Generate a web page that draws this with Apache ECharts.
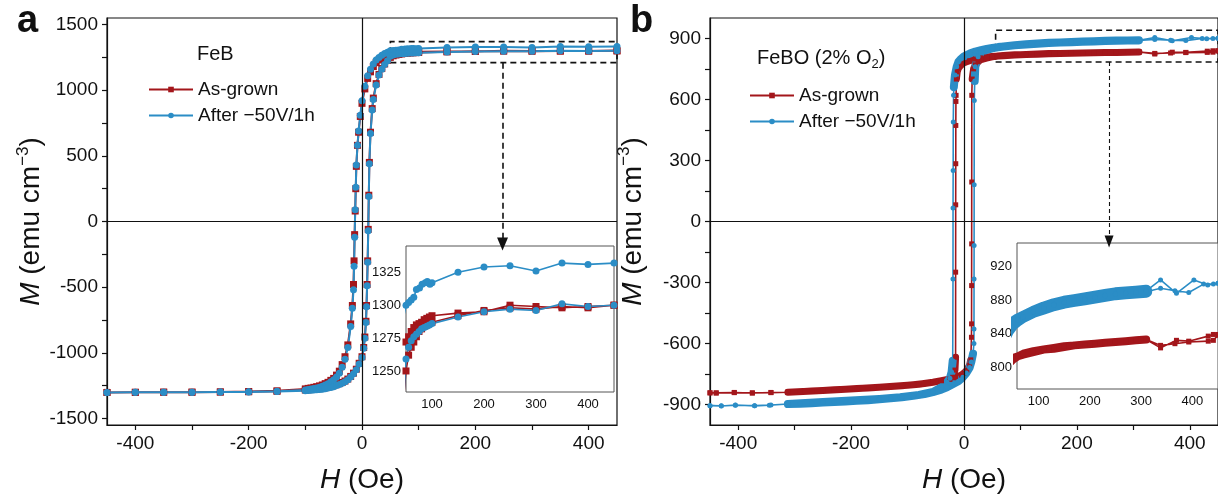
<!DOCTYPE html>
<html>
<head>
<meta charset="utf-8">
<title>M-H loops FeB / FeBO</title>
<script src="https://cdn.jsdelivr.net/npm/echarts@6/dist/echarts.min.js"></script>
<style>
  html, body { margin: 0; padding: 0; background: #fff; }
  #main { width: 1218px; height: 499px; }
</style>
</head>
<body>
<div id="main"></div>
<script>
// ---- panel a : FeB, field H (Oe) and moment M (emu cm^-3) ----
var febGrownDescH = [450, 400, 350, 300, 250, 200, 150, 100, 95, 90, 85, 80, 75, 70, 65, 60, 55, 50, 45, 40, 35, 30, 25, 20, 15, 10, 5, 0, -3, -6, -8, -10, -11, -12, -13, -14, -15, -17, -20, -25, -30, -35, -40, -45, -50, -55, -60, -65, -70, -75, -80, -85, -90, -95, -100, -150, -200, -250, -300, -350, -400, -450];
var febGrownDescM = [1300, 1299, 1298, 1299, 1300, 1295, 1294, 1292, 1291, 1290, 1289, 1287, 1286, 1285, 1283, 1280, 1276, 1272, 1265, 1255, 1245, 1230, 1210, 1180, 1140, 1090, 1010, 900, 800, 680, 580, 420, 250, 80, -100, -300, -480, -640, -780, -940, -1030, -1090, -1140, -1170, -1195, -1210, -1225, -1235, -1245, -1252, -1258, -1263, -1268, -1271, -1275, -1290, -1295, -1298, -1300, -1300, -1301, -1302];
var febGrownAscH = [-450, -400, -350, -300, -250, -200, -150, -100, -95, -90, -85, -80, -75, -70, -65, -60, -55, -50, -45, -40, -35, -30, -25, -20, -15, -10, -5, 0, 3, 5, 7, 8, 9, 10, 11, 12, 13, 15, 18, 20, 25, 30, 35, 40, 45, 50, 55, 60, 65, 70, 75, 80, 85, 90, 95, 100, 150, 200, 250, 300, 350, 400, 450];
var febGrownAscM = [-1302, -1301, -1300, -1300, -1299, -1297, -1293, -1284, -1282, -1280, -1278, -1276, -1273, -1270, -1266, -1262, -1257, -1250, -1243, -1235, -1226, -1215, -1200, -1180, -1155, -1125, -1080, -1030, -960, -880, -760, -640, -480, -300, -60, 200, 450, 680, 860, 940, 1050, 1120, 1165, 1200, 1228, 1250, 1262, 1268, 1272, 1276, 1280, 1282, 1284, 1285, 1286, 1287, 1292, 1296, 1298, 1297, 1299, 1298, 1300];

var febAfterDescH = [450, 400, 350, 300, 250, 200, 150, 100, 96, 91, 87, 81, 76, 70, 65, 60, 55, 50, 45, 40, 35, 30, 25, 20, 15, 10, 5, 0, -3, -6, -8, -10, -11, -12, -13, -14, -15, -17, -20, -25, -30, -35, -40, -45, -50, -55, -60, -65, -70, -75, -80, -85, -90, -95, -100, -150, -200, -250, -300, -350, -400, -450];
var febAfterDescM = [1332, 1331, 1332, 1326, 1330, 1329, 1325, 1317, 1316, 1318, 1317, 1316, 1313, 1312, 1306, 1304, 1302, 1300, 1290, 1280, 1266, 1250, 1230, 1200, 1160, 1110, 1030, 920, 810, 690, 580, 430, 260, 90, -120, -340, -520, -660, -800, -960, -1050, -1110, -1155, -1185, -1205, -1220, -1235, -1245, -1255, -1262, -1268, -1272, -1276, -1280, -1283, -1292, -1296, -1298, -1300, -1301, -1301, -1302];
var febAfterAscH = [-450, -400, -350, -300, -250, -200, -150, -100, -95, -90, -85, -80, -75, -70, -65, -60, -55, -50, -45, -40, -35, -30, -25, -20, -15, -10, -5, 0, 3, 5, 7, 8, 9, 10, 11, 12, 13, 15, 18, 20, 25, 30, 35, 40, 45, 50, 55, 60, 65, 70, 75, 80, 85, 90, 95, 100, 150, 200, 250, 300, 350, 400, 450];
var febAfterAscM = [-1302, -1301, -1301, -1300, -1299, -1298, -1295, -1290, -1288, -1286, -1284, -1282, -1280, -1277, -1273, -1269, -1264, -1258, -1250, -1242, -1232, -1220, -1205, -1185, -1160, -1130, -1085, -1035, -965, -890, -770, -650, -490, -310, -70, 190, 440, 670, 850, 930, 1040, 1115, 1160, 1195, 1225, 1259, 1268, 1273, 1276, 1278, 1280, 1282, 1283, 1284, 1285, 1286, 1291, 1295, 1297, 1296, 1301, 1299, 1300];

// ---- panel b : FeBO (2% O2) ----
var feboGrownDescH = [450, 441, 431, 393, 369, 338, 310, 290, 270, 250, 230, 210, 190, 170, 150, 130, 110, 90, 70, 60, 50, 40, 30, 20, 10, 0, -5, -10, -12, -13.5, -14, -14.3, -14.5, -14.6, -14.7, -14.8, -14.9, -16, -20, -25, -40, -55, -80, -100, -150, -202, -250, -312, -342, -375, -407, -439, -450];
var feboGrownDescM = [839, 839, 837, 831, 832, 823, 833, 832, 831, 830, 829, 828, 827, 826, 824, 822, 821, 818, 815, 813, 811, 808, 804, 798, 790, 780, 770, 752, 735, 700, 620, 590, 472, 284, 82, -249, -667, -730, -765, -774, -782, -790, -800, -805, -815, -823, -830, -839, -840, -843, -840, -842, -842];
var feboGrownAscH = [-450, -439, -407, -375, -342, -312, -290, -270, -250, -230, -210, -190, -170, -150, -130, -110, -90, -70, -55, -40, -25, -15, -5, 0, 5, 10, 12, 13.2, 13.4, 13.5, 13.6, 13.7, 13.8, 14.5, 17, 20, 25, 30, 40, 50, 60, 70, 90, 110, 130, 150, 170, 190, 210, 230, 250, 270, 290, 310, 338, 366, 393, 431, 441, 450];
var feboGrownAscM = [-842, -843, -841, -842, -841, -839, -836, -833, -830, -827, -824, -821, -818, -815, -811, -807, -802, -796, -790, -782, -775, -768, -755, -745, -730, -705, -680, -569, -503, -315, -110, 194, 620, 700, 750, 770, 785, 795, 803, 809, 813, 816, 819, 821, 823, 825, 826, 827, 828, 829, 830, 831, 832, 833, 826, 828, 830, 831, 832, 838];

var feboAfterDescH = [450, 430, 403, 369, 338, 310, 290, 270, 250, 230, 210, 190, 170, 150, 130, 110, 90, 70, 60, 50, 40, 30, 20, 10, 0, -5, -10, -13, -16, -18, -18.5, -19, -19.2, -19.4, -19.5, -20, -22, -25, -30, -40, -55, -80, -113, -150, -200, -250, -312, -342, -371, -405, -430, -450];
var feboAfterDescM = [900, 898, 904, 888, 904, 891, 890, 889, 888, 886, 884, 882, 880, 878, 875, 871, 866, 860, 857, 853, 848, 842, 835, 825, 812, 800, 784, 760, 720, 660, 620, 489, 251, 66, -282, -684, -740, -770, -790, -815, -838, -852, -864, -872, -880, -887, -897, -902, -905, -903, -906, -905];
var feboAfterAscH = [-450, -430, -405, -371, -345, -312, -290, -270, -250, -230, -210, -190, -170, -150, -130, -110, -90, -70, -55, -40, -30, -20, -10, -2, 4, 10, 13, 16, 17.6, 17.7, 17.8, 17.9, 18, 18.2, 19, 20, 25, 30, 40, 50, 60, 70, 90, 110, 130, 150, 170, 190, 210, 230, 250, 270, 290, 310, 338, 366, 393, 422, 441, 450];
var feboAfterAscM = [-905, -907, -902, -906, -903, -897, -895, -893, -890, -887, -884, -881, -878, -874, -869, -864, -857, -848, -838, -826, -815, -800, -785, -765, -745, -718, -690, -650, -600, -528, -282, -118, 181, 595, 690, 760, 810, 830, 843, 851, 856, 860, 866, 870, 874, 877, 879, 881, 883, 885, 887, 888, 889, 890, 894, 891, 889, 899, 899, 900];

// ---- ticks ----
var fieldTicks = [-400, -300, -200, -100, 0, 100, 200, 300, 400];
var fieldLabels = [-400, -200, 0, 200, 400];
var febTicks = [-1500, -1250, -1000, -750, -500, -250, 0, 250, 500, 750, 1000, 1250, 1500];
var febLabels = [-1500, -1000, -500, 0, 500, 1000, 1500];
var feboTicks = [-900, -750, -600, -450, -300, -150, 0, 150, 300, 450, 600, 750, 900];
var feboLabels = [-900, -600, -300, 0, 300, 600, 900];
var insetFieldTicks = [100, 150, 200, 250, 300, 350, 400];
var insetFieldLabels = [100, 200, 300, 400];
var insetFebLabels = [1250, 1275, 1300, 1325];
var insetFeboLabels = [800, 840, 880, 920];

var legendNames = ['As-grown', 'After \u221250V/1h'];

var FONT = 'Liberation Sans, Arial, Helvetica, sans-serif';
var RED = '#a3161b';
var BLUE = '#2b8dc6';
var INK = '#111';

function plain(v) { return String(v); }

function loop(dH, dM, aH, aM) {
  var pts = [];
  for (var i = 0; i < dH.length; i++) pts.push([dH[i], dM[i]]);
  for (var j = 0; j < aH.length; j++) pts.push([aH[j], aM[j]]);
  return pts;
}
// saturated part only, where the dense measurement points pile up into a thick band
function band(pts) {
  return pts.map(function (p) {
    return (Math.abs(p[0]) <= 315 && Math.abs(p[1]) >= 640) ? p : [p[0], '-'];
  });
}

var febGrown = loop(febGrownDescH, febGrownDescM, febGrownAscH, febGrownAscM);
var febAfter = loop(febAfterDescH, febAfterDescM, febAfterAscH, febAfterAscM);
var feboGrown = loop(feboGrownDescH, feboGrownDescM, feboGrownAscH, feboGrownAscM);
var feboAfter = loop(feboAfterDescH, feboAfterDescM, feboAfterAscH, feboAfterAscM);

function curve(name, data, color, symbol, size, axis, extra) {
  var s = {
    name: name, type: 'line', data: data,
    xAxisIndex: axis, yAxisIndex: axis,
    symbol: symbol, symbolSize: size,
    lineStyle: { color: color, width: 1.6 },
    itemStyle: { color: color },
    z: 3
  };
  for (var k in extra) s[k] = extra[k];
  return s;
}
function thick(data, color, width, axis, z) {
  return {
    name: 'band', type: 'line', data: data,
    xAxisIndex: axis, yAxisIndex: axis,
    symbol: 'none', connectNulls: false,
    lineStyle: { color: color, width: width, cap: 'round', join: 'round' },
    z: z
  };
}

var richName = {
  i: { fontSize: 28, fontStyle: 'italic', fontFamily: FONT, color: INK, lineHeight: 34 },
  t: { fontSize: 28, fontFamily: FONT, color: INK, lineHeight: 34 },
  sup: { fontSize: 17, fontFamily: FONT, color: INK, lineHeight: 17, verticalAlign: 'top' }
};

function mainX(grid) {
  return {
    type: 'value', gridIndex: grid, min: -450, max: 450,
    axisLine: { onZero: false, lineStyle: { color: INK, width: 1.2 } },
    axisTick: { customValues: fieldTicks, length: 5, lineStyle: { color: INK, width: 1.2 } },
    axisLabel: { customValues: fieldLabels, formatter: plain, fontSize: 19, color: INK, fontFamily: FONT, margin: 9 },
    splitLine: { show: false },
    name: '{i|H}{t| (Oe)}', nameLocation: 'middle', nameGap: 38,
    nameTextStyle: { rich: richName }
  };
}
function mainY(grid, min, max, ticks, labels, gap) {
  return {
    type: 'value', gridIndex: grid, min: min, max: max,
    axisLine: { onZero: false, lineStyle: { color: INK, width: 1.2 } },
    axisTick: { customValues: ticks, length: 5, lineStyle: { color: INK, width: 1.2 } },
    axisLabel: { customValues: labels, formatter: plain, fontSize: 19, color: INK, fontFamily: FONT, margin: 9 },
    splitLine: { show: false },
    name: '{i|M}{t| (emu cm}{sup|\u22123}{t|)}', nameLocation: 'middle', nameRotate: 90, nameGap: gap,
    nameTextStyle: { rich: richName }
  };
}
function insetX(grid, min, top) {
  return {
    type: 'value', gridIndex: grid, min: min, max: 450, position: top ? 'top' : 'bottom',
    axisLine: { show: false, onZero: false },
    axisTick: { inside: true, customValues: insetFieldTicks, length: 4, lineStyle: { color: '#444' } },
    axisLabel: { show: !top, customValues: insetFieldLabels, formatter: plain, fontSize: 13, color: INK, fontFamily: FONT, margin: 6 },
    splitLine: { show: false }
  };
}
function insetY(grid, min, max, labels) {
  return {
    type: 'value', gridIndex: grid, min: min, max: max,
    axisLine: { show: false, onZero: false },
    axisTick: { inside: true, customValues: labels, length: 4, lineStyle: { color: '#444' } },
    axisLabel: { customValues: labels, formatter: plain, fontSize: 13, color: INK, fontFamily: FONT, margin: 5 },
    splitLine: { show: false }
  };
}

var zeroLines = [{ xAxis: 0 }, { yAxis: 0 }];

var option = {
  animation: false,
  backgroundColor: '#fff',
  textStyle: { fontFamily: FONT },
  title: [
    { text: 'a', left: 12, top: -2, textStyle: { fontSize: 38, fontWeight: 'bold', color: INK, fontFamily: FONT } },
    { text: 'b', left: 625, top: -2, textStyle: { fontSize: 38, fontWeight: 'bold', color: INK, fontFamily: FONT } },
    { text: 'FeB', left: 192, top: 39, textStyle: { fontSize: 20, fontWeight: 'normal', color: INK, fontFamily: FONT } },
    {
      text: '{t|FeBO (2% O}{s|2}{t|)}', left: 752, top: 40,
      textStyle: {
        fontWeight: 'normal',
        rich: {
          t: { fontSize: 20, fontWeight: 'normal', color: INK, fontFamily: FONT, lineHeight: 26 },
          s: { fontSize: 13, fontWeight: 'normal', color: INK, fontFamily: FONT, lineHeight: 13, verticalAlign: 'bottom' }
        }
      }
    }
  ],
  legend: [
    {
      data: legendNames, orient: 'vertical', left: 143, top: 75, itemWidth: 44, itemHeight: 7, itemGap: 7,
      textStyle: { fontSize: 19, color: INK, fontFamily: FONT }, selectedMode: false
    },
    {
      data: legendNames, orient: 'vertical', left: 744, top: 81, itemWidth: 44, itemHeight: 7, itemGap: 7,
      textStyle: { fontSize: 19, color: INK, fontFamily: FONT }, selectedMode: false
    }
  ],
  grid: [
    { left: 107, top: 18, width: 510, height: 409, show: true, borderColor: INK, borderWidth: 1.2 },
    { left: 406, top: 246, width: 208, height: 146, show: true, backgroundColor: '#fff', borderColor: '#555', borderWidth: 1, z: 4 },
    { left: 710, top: 18, width: 510, height: 409, show: true, borderColor: INK, borderWidth: 1.2 },
    { left: 1017, top: 243, width: 202, height: 146, show: true, backgroundColor: '#fff', borderColor: '#555', borderWidth: 1, z: 4 }
  ],
  xAxis: [
    mainX(0),
    insetX(1, 50, false),
    mainX(2),
    insetX(3, 58, false),
    insetX(1, 50, true),
    insetX(3, 58, true)
  ],
  yAxis: [
    mainY(0, -1550, 1550, febTicks, febLabels, 58),
    insetY(1, 1234, 1345, insetFebLabels),
    mainY(2, -1000, 1000, feboTicks, feboLabels, 60),
    insetY(3, 774, 948, insetFeboLabels)
  ],
  series: [
    curve(legendNames[0], febGrown, RED, 'rect', 7, 0, {
      lineStyle: { color: RED, width: 2 },
      markLine: {
        silent: true, symbol: 'none', label: { show: false },
        lineStyle: { color: INK, width: 1.2, type: 'solid' },
        data: zeroLines.concat([[
          { coord: [248, 1210], symbol: 'none', lineStyle: { type: [6, 4], width: 1.6, color: INK } },
          { coord: [248, -172], symbol: 'triangle', symbolSize: [11, 13] }
        ]])
      },
      markArea: {
        silent: true,
        itemStyle: { color: 'rgba(0,0,0,0)', borderColor: INK, borderWidth: 1.6, borderType: [6, 4] },
        data: [[{ coord: [50, 1210] }, { coord: [450, 1370] }]]
      }
    }),
    curve(legendNames[1], febAfter, BLUE, 'circle', 7, 0, { lineStyle: { color: BLUE, width: 2 } }),
    curve(legendNames[0], febGrown, RED, 'rect', 7, 1, { z: 5 }),
    curve(legendNames[1], febAfter, BLUE, 'circle', 7, 1, { z: 5 }),

    curve(legendNames[0], feboGrown, RED, 'rect', 5, 2, {
      markLine: {
        silent: true, symbol: 'none', label: { show: false },
        lineStyle: { color: INK, width: 1.2, type: 'solid' },
        data: zeroLines.concat([[
          { coord: [257, 784], symbol: 'none', lineStyle: { type: [4, 3], width: 1.1, color: INK } },
          { coord: [257, -98], symbol: 'triangle', symbolSize: [9, 12] }
        ]])
      },
      markArea: {
        silent: true,
        itemStyle: { color: 'rgba(0,0,0,0)', borderColor: INK, borderWidth: 1.6, borderType: [6, 4] },
        data: [[{ coord: [56, 784] }, { coord: [450, 940] }]]
      }
    }),
    thick(band(feboGrown), RED, 7, 2, 3),
    curve(legendNames[1], feboAfter, BLUE, 'circle', 5, 2, {}),
    thick(band(feboAfter), BLUE, 8, 2, 3),

    curve(legendNames[0], feboGrown, RED, 'rect', 5, 3, { z: 5 }),
    thick(band(feboGrown), RED, 8, 3, 5),
    curve(legendNames[1], feboAfter, BLUE, 'circle', 5, 3, { z: 5 }),
    thick(band(feboAfter), BLUE, 12, 3, 5)
  ]
};

var chart = echarts.init(document.getElementById('main'), null, { renderer: 'canvas' });
chart.setOption(option);
</script>
</body>
</html>
